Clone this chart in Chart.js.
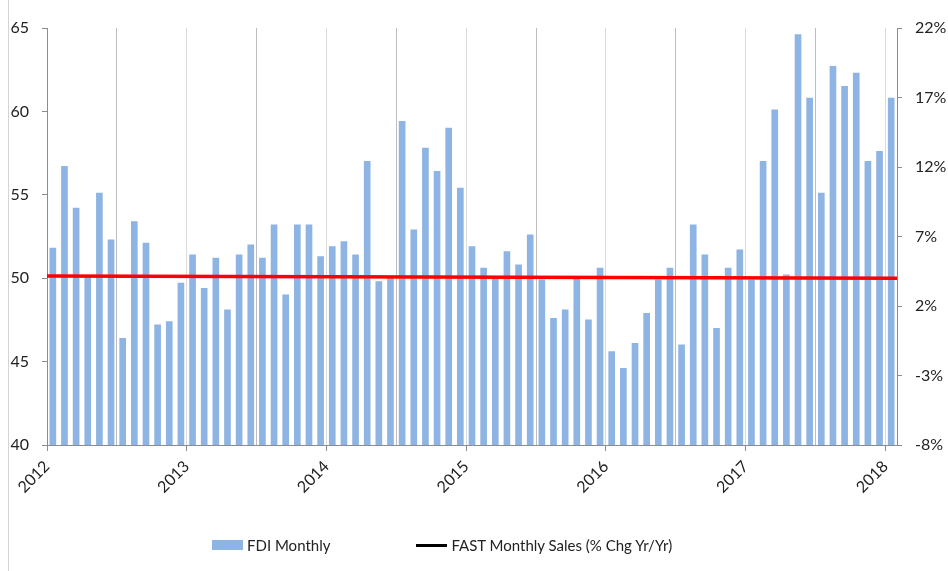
<!DOCTYPE html>
<html>
<head>
<meta charset="utf-8">
<title>FDI Monthly vs FAST Monthly Sales</title>
<script src="https://cdn.jsdelivr.net/npm/chart.js@4.4.1/dist/chart.umd.min.js"></script>
<style>
  html, body { margin: 0; padding: 0; background: #fff; }
  #wrap { position: relative; width: 948px; height: 571px; overflow: hidden; }
  #edge { position: absolute; left: 8px; top: 0; width: 1px; height: 571px; background: #d4d4d4; }
  #legend { position: absolute; top: 534px; left: 212px; display: flex; align-items: center;
            font: 15px Lato, sans-serif; color: #222; }
  .item { display: flex; align-items: center; height: 22px; }
  .item + .item { margin-left: 86px; }
  .swatch { width: 31px; margin-right: 4px; }
</style>
</head>
<body>
<div id="wrap">
  <canvas id="myChart" width="948" height="571"></canvas>
  <div id="edge"></div>
  <div id="legend"></div>
</div>
<script>
// year labels on the x axis (ticks every 12 months, gridlines every 6)
const yearLabels = ['2012', '2013', '2014', '2015', '2016', '2017', '2018'];

// FDI monthly index, Jan 2012 .. Jan 2018
const fdiMonthly = [
  51.8, 56.7, 54.2, 50.1, 55.1, 52.3, 46.4, 53.4, 52.1, 47.2, 47.4, 49.7,   // 2012
  51.4, 49.4, 51.2, 48.1, 51.4, 52.0, 51.2, 53.2, 49.0, 53.2, 53.2, 51.3,   // 2013
  51.9, 52.2, 51.4, 57.0, 49.8, 50.0, 59.4, 52.9, 57.8, 56.4, 59.0, 55.4,   // 2014
  51.9, 50.6, 50.1, 51.6, 50.8, 52.6, 49.9, 47.6, 48.1, 50.0, 47.5, 50.6,   // 2015
  45.6, 44.6, 46.1, 47.9, 49.9, 50.6, 46.0, 53.2, 51.4, 47.0, 50.6, 51.7,   // 2016
  49.9, 57.0, 60.1, 50.2, 64.6, 60.8, 55.1, 62.7, 61.5, 62.3, 57.0, 57.6,   // 2017
  60.8                                                                      // 2018
];

// FAST monthly sales (% chg yr/yr) - drawn as a flat line across the whole period
const fastMonths = [0, 73];
const fastSales = [4.15, 4.0];

const barColor = '#8db4e2';
const lineColor = '#ff0000';
const axisColor = '#8c8c8c';
const tickFont = { family: 'Lato, sans-serif', size: 16 };

const halfYears = [];
for (let m = 0; m <= 72; m += 6) halfYears.push(m);

const data = {
  datasets: [
    {
      type: 'line',
      label: 'FAST Monthly Sales (% Chg Yr/Yr)',
      data: fastMonths.map((m, i) => ({ x: m, y: fastSales[i] })),
      yAxisID: 'y1',
      borderColor: lineColor,
      borderWidth: 3.5,
      pointRadius: 0,
      tension: 0,
      order: 0,
      legendColor: '#000000'
    },
    {
      type: 'bar',
      label: 'FDI Monthly',
      data: fdiMonthly.map((v, i) => ({ x: i + 0.5, y: v })),
      yAxisID: 'y',
      backgroundColor: barColor,
      barThickness: 6,
      order: 1
    }
  ]
};

const config = {
  type: 'bar',
  data: data,
  options: {
    responsive: false,
    animation: false,
    layout: { padding: { top: 28, bottom: 66, left: 0, right: 0 } },
    plugins: {
      legend: { display: false },
      tooltip: { enabled: false }
    },
    scales: {
      x: {
        type: 'linear',
        min: 0,
        max: 73,
        offset: false,
        afterBuildTicks: (scale) => { scale.ticks = halfYears.map(v => ({ value: v })); },
        afterFit: (scale) => { scale.height = 60; },
        ticks: {
          autoSkip: false,
          maxRotation: 45,
          minRotation: 45,
          padding: 6,
          color: '#222',
          font: tickFont,
          callback: (v) => (v % 12 === 0 ? yearLabels[v / 12] : '')
        },
        grid: {
          offset: false,
          color: (ctx) => (ctx.tick && ctx.tick.value % 12 === 0 ? '#dadada' : '#bdbdbd'),
          tickColor: (ctx) => (ctx.tick && ctx.tick.value % 12 === 0 ? axisColor : 'rgba(0,0,0,0)'),
          tickLength: 6
        },
        border: { color: axisColor }
      },
      y: {
        position: 'left',
        min: 40,
        max: 65,
        afterFit: (scale) => { scale.width = 47; },
        ticks: { stepSize: 5, padding: 13, color: '#222', font: tickFont },
        grid: { drawOnChartArea: false, color: axisColor, tickLength: 5 },
        border: { color: axisColor }
      },
      y1: {
        position: 'right',
        min: -8,
        max: 22,
        afterFit: (scale) => { scale.width = 51; },
        ticks: {
          stepSize: 5,
          padding: 13,
          color: '#222',
          font: tickFont,
          callback: (v) => v + '%'
        },
        grid: { drawOnChartArea: false, color: axisColor, tickLength: 5 },
        border: { color: axisColor }
      }
    }
  }
};

const ctx = document.getElementById('myChart').getContext('2d');
const chart = new Chart(ctx, config);

// legend below the plot, bars first like the original
const legendDiv = document.getElementById('legend');
[data.datasets[1], data.datasets[0]].forEach(ds => {
  const item = document.createElement('div');
  item.className = 'item';
  const sw = document.createElement('span');
  sw.className = 'swatch';
  if (ds.type === 'bar') {
    sw.style.height = '10px';
    sw.style.background = ds.backgroundColor;
  } else {
    sw.style.height = '3px';
    sw.style.background = ds.legendColor;
  }
  const txt = document.createElement('span');
  txt.textContent = ds.label;
  item.appendChild(sw);
  item.appendChild(txt);
  legendDiv.appendChild(item);
});
</script>
</body>
</html>
